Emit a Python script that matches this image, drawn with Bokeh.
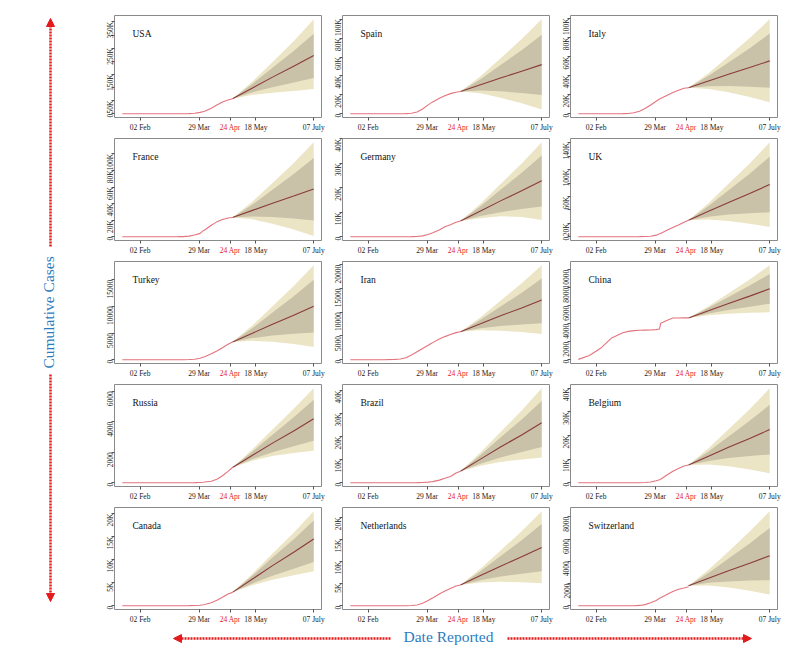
import math
from bokeh.plotting import figure
from bokeh.models import FixedTicker, Label, Arrow, NormalHead, LinearAxis
from bokeh.layouts import row, column
from bokeh.embed import file_html
from bokeh.resources import INLINE

countries = ["USA", "Spain", "Italy", "France", "Germany", "UK",
             "Turkey", "Iran", "China", "Russia", "Brazil", "Belgium",
             "Canada", "Netherlands", "Switzerland"]

# day index of observed points (0 = first reported day)
obs_idx = [0, 10, 20, 30, 40, 45, 50, 55, 60, 65, 70, 73, 74, 80, 85, 90, 95, 99]
observed = {
    "USA":         [0, 0, 0, 0, 6, 19, 36, 108, 471, 1581, 5100, 8400, 9600, 20500, 32900, 44800, 52000, 57000],
    "Spain":       [0, 0, 0, 0, 0, 10, 86, 533, 1756, 4934, 9387, 11744, 12418, 16353, 19130, 21282, 22800, 23500],
    "Italy":       [0, 0, 0, 0, 52, 233, 1016, 2503, 5476, 9134, 13155, 15362, 15887, 19468, 22170, 24648, 26644, 27200],
    "France":      [0, 0, 0, 0, 2, 16, 61, 148, 674, 1995, 4043, 7574, 8093, 13851, 17941, 20829, 22648, 23200],
    "Germany":     [0, 0, 0, 0, 0, 0, 3, 27, 94, 351, 931, 1444, 1584, 2736, 4052, 4879, 5877, 6400],
    "UK":          [0, 0, 0, 0, 0, 2, 8, 71, 282, 761, 2357, 4320, 4943, 9892, 13759, 17378, 21500, 24500],
    "Turkey":      [0, 0, 0, 0, 0, 0, 0, 1, 30, 92, 277, 501, 574, 1101, 1643, 2259, 2900, 3300],
    "Iran":        [0, 0, 0, 4, 66, 145, 429, 988, 1685, 2378, 3036, 3452, 3603, 4357, 4869, 5297, 5710, 5900],
    "China":       [40, 460, 1270, 2420, 3000, 3150, 3230, 3270, 3290, 3310, 3350, 3420, 4050, 4400, 4640, 4640, 4650, 4650],
    "Russia":      [0, 0, 0, 0, 0, 0, 0, 0, 1, 4, 17, 34, 45, 94, 232, 456, 747, 1000],
    "Brazil":      [0, 0, 0, 0, 0, 0, 0, 1, 25, 92, 244, 445, 486, 1124, 1952, 2741, 4205, 5000],
    "Belgium":     [0, 0, 0, 0, 0, 0, 3, 14, 88, 289, 828, 1283, 1447, 3346, 4857, 5998, 7094, 7500],
    "Canada":      [0, 0, 0, 0, 0, 0, 1, 8, 20, 54, 108, 214, 259, 654, 1195, 1857, 2560, 2900],
    "Netherlands": [0, 0, 0, 0, 0, 1, 5, 43, 180, 547, 1175, 1651, 1768, 2653, 3326, 3929, 4482, 4700],
    "Switzerland": [0, 0, 0, 0, 0, 1, 4, 27, 98, 264, 478, 666, 715, 1036, 1281, 1478, 1599, 1700],
}

# forecast points
fc_idx = [99, 117, 135, 154, 172]
fc_mean = {
    "USA": [57000, 98000, 139500, 181000, 222000],
    "Spain": [23500, 30600, 37750, 44900, 52000],
    "Italy": [27200, 34250, 41300, 48350, 55400],
    "France": [23200, 31800, 40450, 49100, 57700],
    "Germany": [6400, 10500, 14650, 18800, 22900],
    "UK": [24500, 37900, 51250, 64600, 78000],
    "Turkey": [3300, 4980, 6650, 8330, 10000],
    "Iran": [5900, 7570, 9250, 10920, 12600],
    "China": [4650, 5450, 6260, 7070, 7880],
    "Russia": [1000, 1800, 2600, 3400, 4200],
    "Brazil": [5000, 10250, 15500, 20750, 26000],
    "Belgium": [7500, 11250, 15000, 18750, 22500],
    "Canada": [2900, 5800, 8700, 11600, 14500],
    "Netherlands": [4700, 6830, 8950, 11080, 13200],
    "Switzerland": [1800, 2480, 3150, 3830, 4500],
}
fc_hi95 = {
    "USA": [57000, 123000, 197000, 276000, 360000],
    "Spain": [23500, 39700, 58700, 79000, 100000],
    "Italy": [27200, 42400, 60300, 79300, 99000],
    "France": [23200, 42500, 64950, 89100, 114000],
    "Germany": [6400, 13500, 21500, 29900, 38600],
    "UK": [24500, 50000, 79000, 109500, 141000],
    "Turkey": [3300, 6440, 10000, 13800, 17700],
    "Iran": [5900, 8950, 12430, 16100, 19900],
    "China": [4650, 5950, 7400, 8930, 10500],
    "Russia": [1000, 2200, 3500, 4850, 6200],
    "Brazil": [5000, 13100, 22000, 31400, 41000],
    "Belgium": [7500, 14550, 22600, 31150, 40000],
    "Canada": [2900, 6940, 11310, 15860, 20500],
    "Netherlands": [4700, 8390, 12520, 16900, 21400],
    "Switzerland": [1800, 3240, 4890, 6670, 8500],
}
fc_hi80 = {
    "USA": [57000, 114000, 175500, 239500, 305000],
    "Spain": [23500, 36600, 51500, 67300, 83600],
    "Italy": [27200, 39700, 53700, 68700, 84000],
    "France": [23200, 38900, 56700, 75600, 95000],
    "Germany": [6400, 12500, 19200, 26100, 33200],
    "UK": [24500, 45800, 69500, 94000, 119500],
    "Turkey": [3300, 5930, 8830, 11880, 15000],
    "Iran": [5900, 8420, 11200, 14130, 17100],
    "China": [4650, 5770, 6980, 8250, 9540],
    "Russia": [1000, 2050, 3150, 4300, 5450],
    "Brazil": [5000, 12050, 19630, 27500, 35500],
    "Belgium": [7500, 13250, 19570, 26200, 33000],
    "Canada": [2900, 6560, 10440, 14440, 18500],
    "Netherlands": [4700, 7830, 11250, 14840, 18500],
    "Switzerland": [1800, 2955, 4240, 5605, 7000],
}
fc_lo80 = {
    "USA": [57000, 82000, 101000, 119000, 136000],
    "Spain": [23500, 24500, 23700, 22000, 19700],
    "Italy": [27200, 28900, 29000, 28300, 27200],
    "France": [23200, 24500, 23850, 22000, 19500],
    "Germany": [6400, 8500, 10050, 11300, 12400],
    "UK": [24500, 30000, 33200, 35100, 36400],
    "Turkey": [3300, 4050, 4520, 4850, 5100],
    "Iran": [5900, 6630, 7100, 7440, 7700],
    "China": [4650, 5140, 5540, 5900, 6230],
    "Russia": [1000, 1550, 2000, 2400, 2750],
    "Brazil": [5000, 8250, 10930, 13300, 15500],
    "Belgium": [7500, 9250, 10430, 11300, 12000],
    "Canada": [2900, 4850, 6530, 8050, 9500],
    "Netherlands": [4700, 5800, 6600, 7250, 7800],
    "Switzerland": [1800, 2060, 2190, 2270, 2300],
}
fc_lo95 = {
    "USA": [57000, 72000, 80000, 87000, 94000],
    "Spain": [23500, 21600, 17000, 11100, 4400],
    "Italy": [27200, 26000, 22400, 17500, 12000],
    "France": [23200, 21000, 15700, 8700, 800],
    "Germany": [6400, 7500, 8400, 8100, 6800],
    "UK": [24500, 25800, 23600, 19500, 14500],
    "Turkey": [3300, 3540, 3350, 2930, 2400],
    "Iran": [5900, 6200, 6100, 5820, 5400],
    "China": [4650, 4950, 5120, 5220, 5270],
    "Russia": [1000, 1450, 1750, 1950, 2100],
    "Brazil": [5000, 7400, 9000, 10100, 11000],
    "Belgium": [7500, 7750, 6950, 5650, 4000],
    "Canada": [2900, 4470, 5650, 6630, 7500],
    "Netherlands": [4700, 5290, 5430, 5330, 5100],
    "Switzerland": [1800, 1815, 1630, 1345, 1000],
}

x_tick_idx = [16, 69, 97, 120, 172]
x_tick_labels = ["02 Feb", "29 Mar", "24 Apr", "18 May", "07 July"]
highlight_tick = "24 Apr"

y_ticks = {
    "USA": [0, 50000, 100000, 150000, 200000, 250000, 300000, 350000],
    "Spain": [0, 20000, 40000, 60000, 80000, 100000],
    "Italy": [0, 20000, 40000, 60000, 80000, 100000],
    "France": [0, 20000, 40000, 60000, 80000, 100000],
    "Germany": [0, 10000, 20000, 30000, 40000],
    "UK": [0, 20000, 40000, 60000, 80000, 100000, 120000, 140000],
    "Turkey": [0, 5000, 10000, 15000],
    "Iran": [0, 5000, 10000, 15000, 20000],
    "China": [0, 2000, 4000, 6000, 8000, 10000],
    "Russia": [0, 2000, 4000, 6000],
    "Brazil": [0, 10000, 20000, 30000, 40000],
    "Belgium": [0, 10000, 20000, 30000, 40000],
    "Canada": [0, 5000, 10000, 15000, 20000],
    "Netherlands": [0, 5000, 10000, 15000, 20000],
    "Switzerland": [0, 2000, 4000, 6000, 8000],
}
y_tick_labels = {
    "USA": ["0", "50K", "", "150K", "", "250K", "", "350K"],
    "Spain": ["0", "20K", "40K", "60K", "80K", "100K"],
    "Italy": ["0", "20K", "40K", "60K", "80K", "100K"],
    "France": ["0", "20K", "40K", "60K", "80K", "100K"],
    "Germany": ["0", "10K", "20K", "30K", "40K"],
    "UK": ["0", "20K", "", "60K", "", "100K", "", "140K"],
    "Turkey": ["0", "5000", "10000", "15000"],
    "Iran": ["0", "5000", "10000", "15000", "20000"],
    "China": ["0", "2000", "4000", "6000", "8000", "10000"],
    "Russia": ["0", "2000", "4000", "6000"],
    "Brazil": ["0", "10K", "20K", "30K", "40K"],
    "Belgium": ["0", "10K", "20K", "30K", "40K"],
    "Canada": ["0", "5K", "10K", "15K", "20K"],
    "Netherlands": ["0", "5K", "10K", "15K", "20K"],
    "Switzerland": ["0", "2000", "4000", "6000", "8000"],
}

y_title = "Cumulative  Cases"
x_title = "Date Reported"

# ---------------- styling ----------------
FONT = "Liberation Serif"
OUTER = "#ece5c5"
INNER = "#c9c1a8"
MEAN_C = "#8b3a3a"
OBS_C = "#e4737d"
RED = "#e41a1c"
BLUE = "#2b7cc0"
FRAME = "#8a8a8a"

PW, PH = 228, 123
LEFT_W = 90
BOTTOM_H = 27


def style_axis(ax):
    ax.axis_line_color = None
    ax.major_tick_in = 0
    ax.major_tick_out = 3
    ax.minor_tick_in = 0
    ax.minor_tick_out = 0
    ax.minor_tick_line_color = None
    ax.major_tick_line_color = "#555555"
    ax.major_label_text_font = FONT
    ax.major_label_text_font_size = "7.5px"
    ax.major_label_text_color = "#222222"
    ax.major_label_standoff = 2


def panel(name):
    top = max(fc_hi95[name] + observed[name])
    p = figure(width=PW, height=PH, x_range=(-7, 179),
               y_range=(-0.04 * top, 1.04 * top),
               output_backend="svg", toolbar_location=None,
               min_border_left=16, min_border_right=5,
               min_border_top=4, min_border_bottom=13,
               background_fill_color="white", border_fill_color="white")
    p.grid.visible = False
    p.outline_line_color = FRAME
    p.outline_line_width = 1

    p.varea(x=fc_idx, y1=fc_lo95[name], y2=fc_hi95[name], fill_color=OUTER)
    p.varea(x=fc_idx, y1=fc_lo80[name], y2=fc_hi80[name], fill_color=INNER)
    p.line(x=fc_idx, y=fc_mean[name], line_color=MEAN_C, line_width=1.1)
    p.line(x=obs_idx, y=observed[name], line_color=OBS_C, line_width=1.1)

    xa = p.xaxis[0]
    style_axis(xa)
    xa.ticker = FixedTicker(ticks=x_tick_idx, minor_ticks=[])
    xa.major_label_overrides = {t: ("" if l == highlight_tick else l)
                                for t, l in zip(x_tick_idx, x_tick_labels)}

    # second bottom axis holding only the red tick label, pulled up onto the same line
    hx = x_tick_idx[x_tick_labels.index(highlight_tick)]
    ra = LinearAxis(ticker=FixedTicker(ticks=[hx], minor_ticks=[]))
    style_axis(ra)
    ra.major_tick_out = 0
    ra.major_tick_line_color = None
    ra.major_label_overrides = {hx: highlight_tick}
    ra.major_label_text_color = RED
    ra.major_label_standoff = -12
    p.add_layout(ra, "below")

    ya = p.yaxis[0]
    style_axis(ya)
    ya.ticker = FixedTicker(ticks=y_ticks[name], minor_ticks=[])
    ya.major_label_overrides = {t: l for t, l in zip(y_ticks[name], y_tick_labels[name])}
    ya.major_label_orientation = math.pi / 2
    ya.major_label_standoff = 1

    p.add_layout(Label(x=18, y=84, x_units="screen", y_units="screen",
                       text=name, text_font=FONT, text_font_size="9.5px",
                       text_color="#111111", text_align="left",
                       text_baseline="middle"))
    return p


panels = [panel(c) for c in countries]
grid_rows = [row(*panels[i:i + 3]) for i in range(0, 15, 3)]
grid = column(*grid_rows)

grid_h = PH * 5
grid_w = PW * 3

# left strip: vertical title with dotted double arrow
left = figure(width=LEFT_W, height=grid_h, x_range=(0, LEFT_W), y_range=(0, grid_h),
              output_backend="svg", toolbar_location=None, min_border=0)
left.axis.visible = False
left.grid.visible = False
left.outline_line_color = None
head = dict(size=8, fill_color=RED, line_color=RED)
left.add_layout(Arrow(end=NormalHead(**head), x_start=42, y_start=380, x_end=42, y_end=608,
                      line_color=RED, line_width=2.5, line_dash="2 1"))
left.add_layout(Arrow(end=NormalHead(**head), x_start=42, y_start=252, x_end=42, y_end=25,
                      line_color=RED, line_width=2.5, line_dash="2 1"))
left.add_layout(Label(x=40, y=316, text=y_title, angle=math.pi / 2,
                      text_font=FONT, text_font_size="15.5px", text_color=BLUE,
                      text_align="center", text_baseline="middle"))

# bottom strip
bottom_w = LEFT_W + grid_w
bottom = figure(width=bottom_w, height=BOTTOM_H, x_range=(0, bottom_w), y_range=(0, BOTTOM_H),
                output_backend="svg", toolbar_location=None, min_border=0)
bottom.axis.visible = False
bottom.grid.visible = False
bottom.outline_line_color = None
bottom.add_layout(Arrow(end=NormalHead(**head), x_start=382, y_start=15, x_end=165, y_end=15,
                        line_color=RED, line_width=2.5, line_dash="2 1"))
bottom.add_layout(Arrow(end=NormalHead(**head), x_start=499, y_start=15, x_end=743, y_end=15,
                        line_color=RED, line_width=2.5, line_dash="2 1"))
bottom.add_layout(Label(x=440, y=17, text=x_title,
                        text_font=FONT, text_font_size="15.5px", text_color=BLUE,
                        text_align="center", text_baseline="middle"))

layout = column(row(left, grid), bottom, margin=(11, 8, 0, 8))

with open("out.html", "w") as f:
    f.write(file_html(layout, INLINE))
